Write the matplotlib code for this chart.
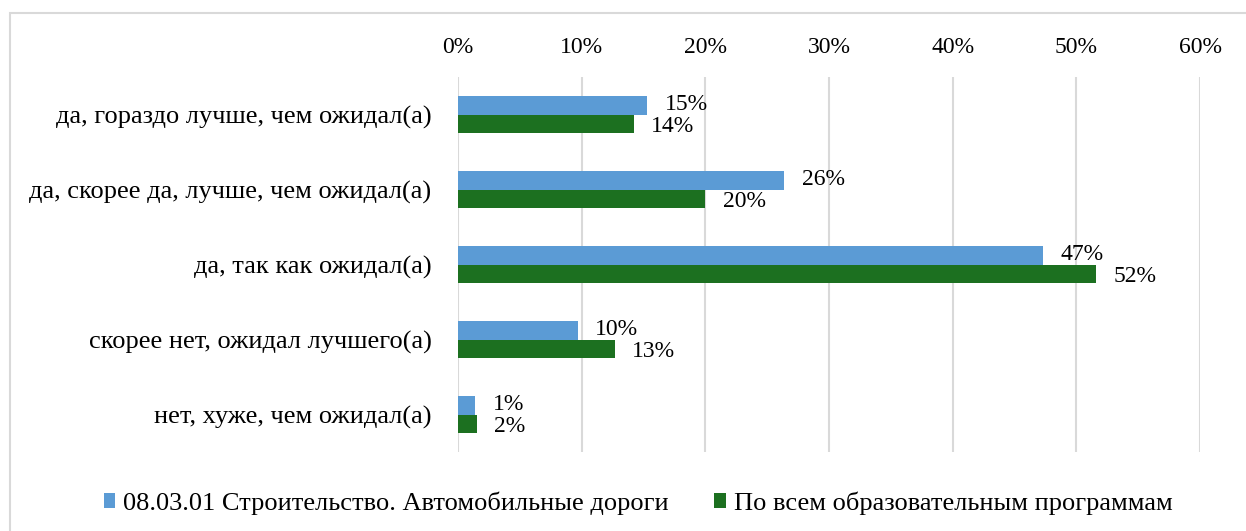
import numpy as np
import matplotlib.pyplot as plt
from matplotlib.patches import Rectangle

plt.rcParams['font.family'] = ['Liberation Serif', 'DejaVu Serif']

# Данные
categories = ['да, гораздо лучше, чем ожидал(а)',
              'да, скорее да, лучше, чем ожидал(а)',
              'да, так как ожидал(а)',
              'скорее нет, ожидал лучшего(а)',
              'нет, хуже, чем ожидал(а)']
road = [15.3, 26.4, 47.3, 9.7, 1.4]
all_progs = [14.2, 20.0, 51.6, 12.7, 1.5]
road_labels = ['15%', '26%', '47%', '10%', '1%']
all_labels = ['14%', '20%', '52%', '13%', '2%']
series_names = ['08.03.01 Строительство. Автомобильные дороги',
                'По всем образовательным программам']
ticks = [0, 10, 20, 30, 40, 50, 60]

blue = '#5B9BD5'
green = '#1C7020'

fig = plt.figure(figsize=(12.46, 5.31), dpi=100)
ax = fig.add_axes([458/1246, 1-452/531, 742/1246, 375/531])

y = np.arange(len(categories))
h = 0.25
ax.barh(y - h/2, road, height=h, color=blue, label=series_names[0], zorder=3)
ax.barh(y + h/2, all_progs, height=h, color=green, label=series_names[1], zorder=3)

for i in range(len(categories)):
    ax.text(road[i] + 1.4, y[i] - h/2 - 0.01, road_labels[i], va='center', ha='left', fontsize=17)
    ax.text(all_progs[i] + 1.4, y[i] + h/2 + 0.03, all_labels[i], va='center', ha='left', fontsize=17)

ax.set_xlim(0, 60)
ax.set_ylim(4.5, -0.5)
ax.set_xticks(ticks)
ax.set_xticklabels([f'{t}%' for t in ticks], fontsize=17)
ax.xaxis.tick_top()
ax.tick_params(axis='x', length=0, pad=14)
ax.tick_params(axis='y', length=0, pad=19)
ax.set_yticks(y)
ax.set_yticklabels(categories, fontsize=19)
ax.grid(axis='x', color='#d9d9d9', linewidth=1.5, zorder=0)
ax.set_axisbelow(True)
for s in ax.spines.values():
    s.set_visible(False)

fig.legend(loc='center', bbox_to_anchor=(638/1246, 1-503/531), ncol=2, frameon=False,
           fontsize=19, handlelength=0.45, handleheight=0.5, handletextpad=0.3, columnspacing=1.7)

fig.patches.append(Rectangle((10/1246, -0.1), 1.2, 1-13/531+0.1, transform=fig.transFigure,
                             fill=False, edgecolor='#d9d9d9', linewidth=1.5))

fig.savefig('out.png', dpi=100)
